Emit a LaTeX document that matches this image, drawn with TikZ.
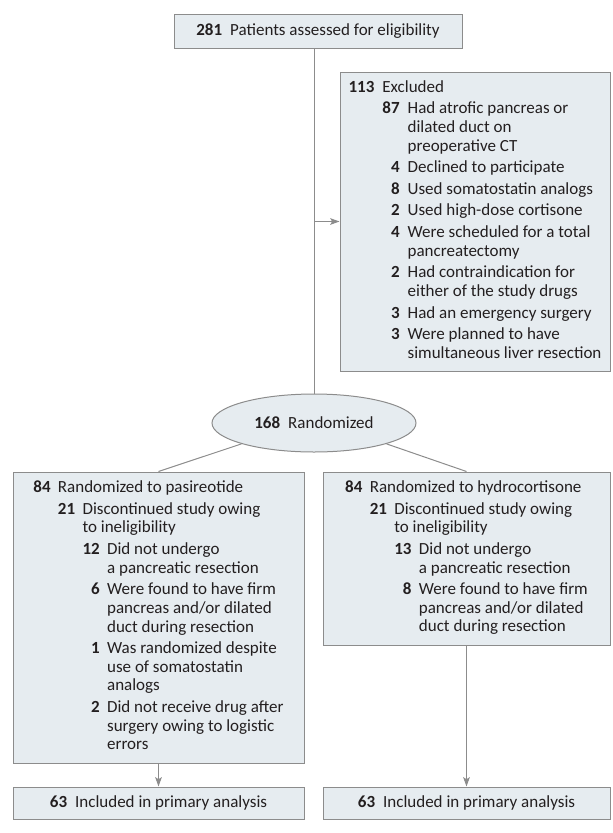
\documentclass[tikz,border=0pt]{standalone}
\usepackage{fontspec}
\setmainfont{Carlito}
\usepackage{array}
\usetikzlibrary{shapes.geometric,arrows.meta}

\definecolor{boxfill}{HTML}{E6ECF0}
\definecolor{boxline}{HTML}{8C8C8C}
\definecolor{inktext}{HTML}{231F20}

\tikzset{every picture/.style={line width=0.75pt}}
\tikzset{
  flowbox/.style={draw=boxline, fill=boxfill, rectangle, inner sep=0pt,
    text=inktext, font=\fontsize{12.75}{14}\selectfont},
  randoval/.style={flowbox, ellipse},
  link/.style={draw=boxline},
  linkarrow/.style={link, -{Stealth[length=7pt,width=5pt,inset=1.5pt]}},
}
\newcolumntype{N}{>{\bfseries}r}
\newcommand{\spanl}[2]{\multicolumn{#1}{@{}l@{}}{#2}}

\begin{document}
\begin{tikzpicture}[x=0.75pt,y=0.75pt,yscale=-1,xscale=1]
\useasboundingbox (0,0) rectangle (612,833);

% Screening
\node[flowbox, minimum width=216pt, minimum height=25.5pt] (screen) at (318,31)
  {\textbf{281}\hspace{6pt}Patients assessed for eligibility};

% Exclusions
\node[flowbox, minimum width=202.5pt, minimum height=224.25pt] (excl) at (475,221.5)
  {\begin{tabular}{@{}N@{\hspace{6pt}}N@{\hspace{6pt}}l@{}}
   113 & \spanl{2}{Excluded}\\[2.2pt]
   & 87 & Had atrofic pancreas or\\
   & & dilated duct on\\
   & & preoperative CT\\[2.2pt]
   & 4 & Declined to participate\\[2.2pt]
   & 8 & Used somatostatin analogs\\[2.2pt]
   & 2 & Used high-dose cortisone\\[2.2pt]
   & 4 & Were scheduled for a total\\
   & & pancreatectomy\\[2.2pt]
   & 2 & Had contraindication for\\
   & & either of the study drugs\\[2.2pt]
   & 3 & Had an emergency surgery\\[2.2pt]
   & 3 & Were planned to have\\
   & & simultaneous liver resection
   \end{tabular}};

% Randomization
\node[randoval, minimum width=153pt, minimum height=43.5pt] (rand) at (314,423)
  {\textbf{168}\hspace{6pt}Randomized};

% Allocation
\node[flowbox, minimum width=218.25pt, minimum height=218.25pt] (pasi) at (158.5,617.5)
  {\begin{tabular}{@{}N@{\hspace{5.5pt}}N@{\hspace{5.5pt}}N@{\hspace{5.5pt}}l@{}}
   84 & \spanl{3}{Randomized to pasireotide}\\[2.2pt]
   & 21 & \spanl{2}{Discontinued study owing}\\
   & & \spanl{2}{to ineligibility}\\[2.2pt]
   & & 12 & Did not undergo\\
   & & & a pancreatic resection\\[2.2pt]
   & & 6 & Were found to have firm\\
   & & & pancreas and/or dilated\\
   & & & duct during resection\\[2.2pt]
   & & 1 & Was randomized despite\\
   & & & use of somatostatin\\
   & & & analogs\\[2.2pt]
   & & 2 & Did not receive drug after\\
   & & & surgery owing to logistic\\
   & & & errors
   \end{tabular}};

\node[flowbox, minimum width=215.25pt, minimum height=129.75pt] (hydro) at (466.5,558.5)
  {\begin{tabular}{@{}N@{\hspace{5.5pt}}N@{\hspace{5.5pt}}N@{\hspace{5.5pt}}l@{}}
   84 & \spanl{3}{Randomized to hydrocortisone}\\[2.2pt]
   & 21 & \spanl{2}{Discontinued study owing}\\
   & & \spanl{2}{to ineligibility}\\[2.2pt]
   & & 13 & Did not undergo\\
   & & & a pancreatic resection\\[2.2pt]
   & & 8 & Were found to have firm\\
   & & & pancreas and/or dilated\\
   & & & duct during resection
   \end{tabular}};

% Analysis
\node[flowbox, minimum width=218.25pt, minimum height=24pt] (pasires) at (158.5,803)
  {\textbf{63}\hspace{6pt}Included in primary analysis};
\node[flowbox, minimum width=215.25pt, minimum height=24pt] (hydrores) at (466.5,803)
  {\textbf{63}\hspace{6pt}Included in primary analysis};

% Connectors
\draw[link] (screen.south -| rand.north) -- (rand.north);
\draw[linkarrow] (rand.north |- excl.west) -- (excl.west);
\draw[link] (rand.south west) -- (pasi.north);
\draw[link] (rand.south east) -- (hydro.north);
\draw[linkarrow] (pasi.south) -- (pasires.north);
\draw[linkarrow] (hydro.south) -- (hydrores.north);

\end{tikzpicture}
\end{document}
